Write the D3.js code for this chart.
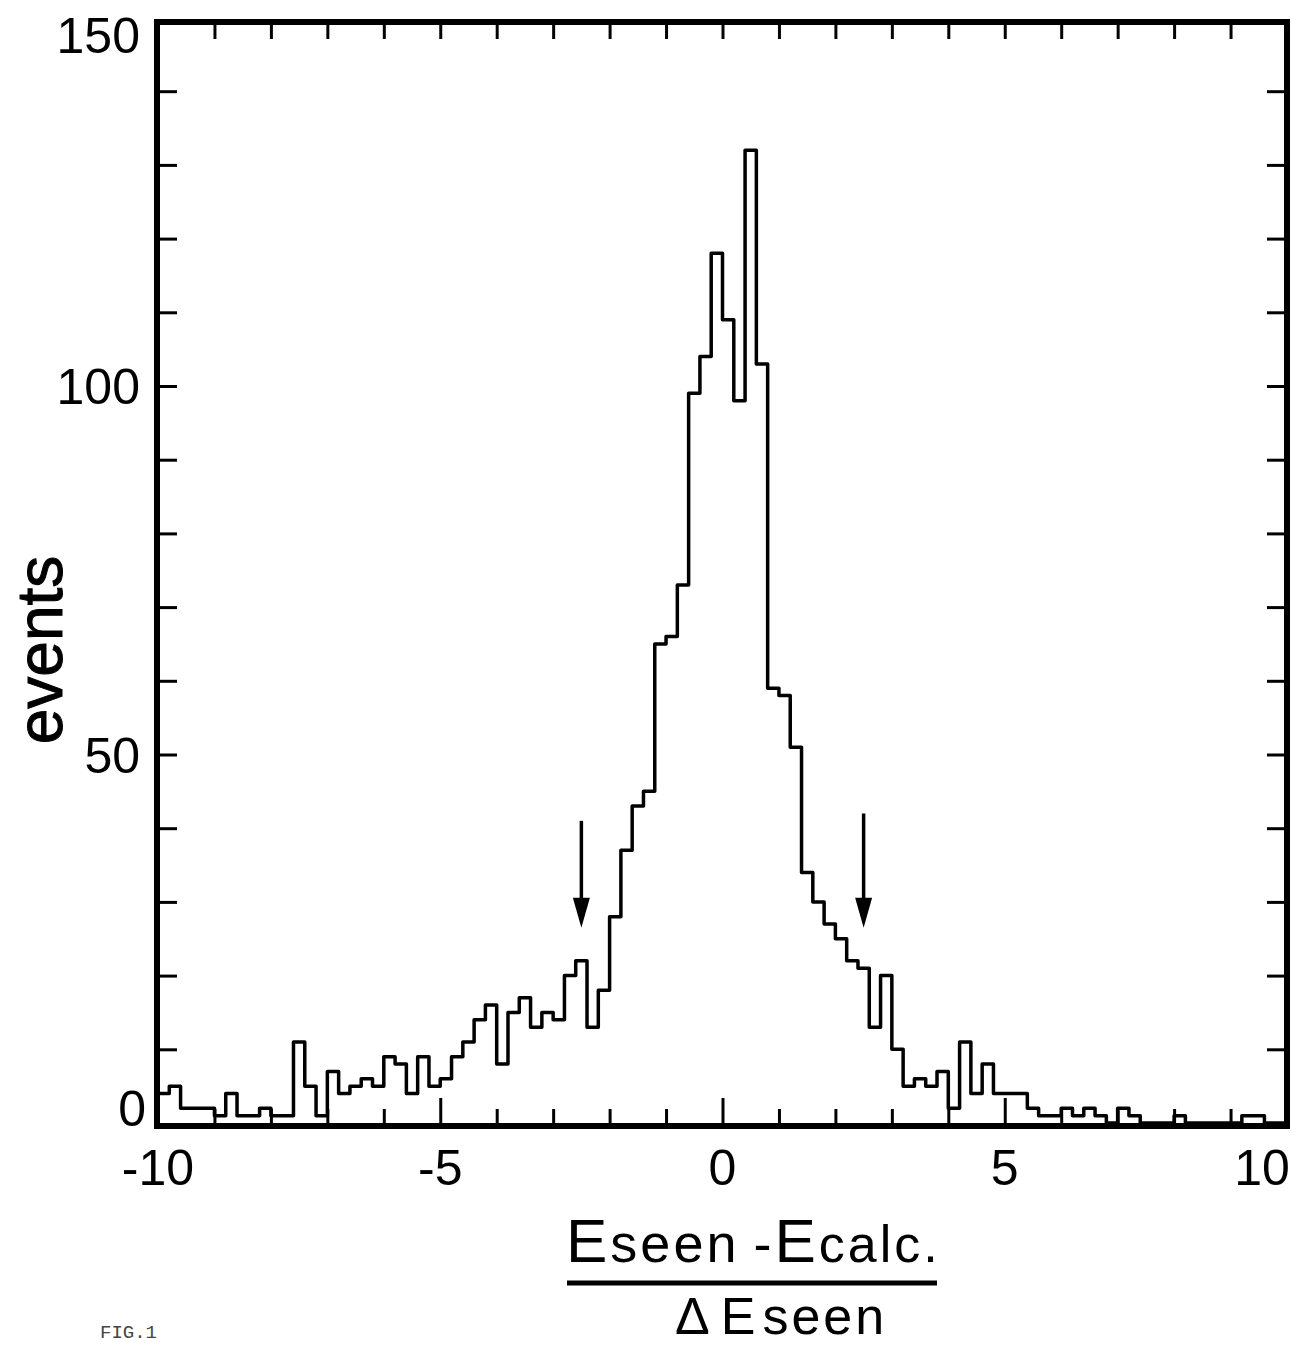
<!DOCTYPE html>
<html>
<head>
<meta charset="utf-8">
<script src="https://cdn.jsdelivr.net/npm/d3@7"></script>
<style>
  body { margin: 0; background: #fff; }
  svg text { font-family: "Liberation Sans", Arial, sans-serif; fill: #000; }
</style>
</head>
<body>
<div id="chart"></div>
<script>
// histogram of (Eseen - Ecalc) / dEseen, bins of 0.2 from -10 to 10
var binStart = -10, binWidth = 0.2;
var counts = [
   4,  5,  2,  2,  2,  1,  4,  1,  1,  2,
   1,  1, 11,  5,  1,  7,  4,  5,  6,  5,
   9,  8,  4,  9,  5,  6,  9, 11, 14, 16,
   8, 15, 17, 13, 15, 14, 20, 22, 13, 18,
  28, 37, 43, 45, 65, 66, 73, 99,104,118,
 109, 98,132,103, 59, 58, 51, 34, 30, 27,
  25, 22, 21, 13, 20, 10,  5,  6,  5,  7,
   2, 11,  4,  8,  4,  4,  4,  2,  1,  1,
   2,  1,  2,  1,  0,  2,  1,  0,  0,  0,
   1,  0,  0,  0,  0,  0,  1,  1,  0,  0
];
var xTickLabels = [-10, -5, 0, 5, 10];
var yTickLabels = [0, 50, 100, 150];
var cuts = [-2.5, 2.5];          // arrows
var arrowTop = [41, 42], arrowTip = 26.5;

var width = 1293, height = 1362;
var frame = {left: 157, right: 1287, top: 22, bottom: 1126};

var svg = d3.select("#chart").append("svg")
    .attr("width", width)
    .attr("height", height);

var x = d3.scaleLinear().domain([-10, 10]).range([frame.left + 1, frame.right]);
var y = d3.scaleLinear().domain([0, 150]).range([frame.bottom - 3, frame.top - 4.5]);

// inward ticks
function ticks(axis, tx, ty) {
    var g = svg.append("g").attr("transform", "translate(" + tx + "," + ty + ")").call(axis);
    g.select(".domain").remove();
    g.selectAll("line").attr("stroke", "#000").attr("stroke-width", 3);
    return g;
}
var minorX = d3.range(-9, 10).filter(function(d) { return d % 5 !== 0; });
var majorX = [-5, 0, 5];
ticks(d3.axisBottom(x).tickValues(minorX).tickSize(-17).tickFormat(""), 0, frame.bottom);
ticks(d3.axisBottom(x).tickValues(majorX).tickSize(-28).tickFormat(""), 0, frame.bottom);
ticks(d3.axisTop(x).tickValues(d3.range(-9, 10)).tickSize(-17).tickFormat(""), 0, frame.top);
ticks(d3.axisLeft(y).tickValues(d3.range(10, 150, 10)).tickSize(-20).tickFormat(""), frame.left, 0);
ticks(d3.axisRight(y).tickValues(d3.range(10, 150, 10)).tickSize(-20).tickFormat(""), frame.right, 0);

// frame
svg.append("rect")
    .attr("x", frame.left)
    .attr("y", frame.top)
    .attr("width", frame.right - frame.left)
    .attr("height", frame.bottom - frame.top)
    .attr("fill", "none")
    .attr("stroke", "#000")
    .attr("stroke-width", 6);

// histogram as a step line
var pts = [[binStart, 0]];
counts.forEach(function(c, i) { pts.push([binStart + i * binWidth, c]); });
pts.push([binStart + counts.length * binWidth, counts[counts.length - 1]]);
pts.push([binStart + counts.length * binWidth, 0]);

var line = d3.line()
    .x(function(d) { return x(d[0]); })
    .y(function(d) { return y(d[1]); })
    .curve(d3.curveStepAfter);

svg.append("path")
    .datum(pts)
    .attr("d", line)
    .attr("fill", "none")
    .attr("stroke", "#000")
    .attr("stroke-width", 3.5)
    .attr("stroke-linejoin", "round");

// arrows at the cuts
cuts.forEach(function(c, i) {
    var ax = x(c), top = y(arrowTop[i]), tip = y(arrowTip);
    svg.append("line")
        .attr("x1", ax).attr("x2", ax)
        .attr("y1", top).attr("y2", tip - 20)
        .attr("stroke", "#000").attr("stroke-width", 3.5);
    svg.append("path")
        .attr("d", "M" + (ax - 8.5) + "," + (tip - 30) + "L" + (ax + 8.5) + "," + (tip - 30) + "L" + ax + "," + tip + "Z")
        .attr("fill", "#000");
});

// tick labels
svg.selectAll(".xl").data(xTickLabels).enter().append("text")
    .attr("class", "xl")
    .attr("x", function(d) { return Math.min(x(d), 1262); })
    .attr("y", 1185)
    .attr("text-anchor", "middle")
    .style("font-size", "50px")
    .text(function(d) { return d < 0 ? "-" + Math.abs(d) : d; });

svg.selectAll(".yl").data(yTickLabels).enter().append("text")
    .attr("class", "yl")
    .attr("x", function(d) { return d === 0 ? 146 : 140; })
    .attr("y", function(d) { return Math.min(Math.max(y(d), 35), 1108) + 18; })
    .attr("text-anchor", "end")
    .style("font-size", "50px")
    .text(function(d) { return d; });

// axis titles
svg.append("text")
    .attr("transform", "translate(62,650) rotate(-90)")
    .attr("text-anchor", "middle")
    .style("font-size", "64px")
    .style("stroke", "#000")
    .style("stroke-width", 1)
    .text("events");

var num = svg.append("text")
    .attr("x", 566)
    .attr("y", 1262)
    .style("letter-spacing", "3px");
num.append("tspan").style("font-size", "62px").text("E");
num.append("tspan").style("font-size", "54px").text("seen");
num.append("tspan").style("font-size", "54px").attr("dx", 14).text("-");
num.append("tspan").style("font-size", "62px").text("E");
num.append("tspan").style("font-size", "52px").text("calc.");

svg.append("line")
    .attr("x1", 567).attr("x2", 937)
    .attr("y1", 1283).attr("y2", 1283)
    .attr("stroke", "#000").attr("stroke-width", 5);

var den = svg.append("text")
    .attr("x", 675)
    .attr("y", 1334)
    .style("letter-spacing", "3px");
den.append("tspan").style("font-size", "52px").text("\u0394");
den.append("tspan").style("font-size", "52px").attr("dx", 8).text("E");
den.append("tspan").style("font-size", "52px").attr("dx", 4).text("seen");

svg.append("text")
    .attr("x", 100)
    .attr("y", 1338)
    .style("font-family", "'Liberation Mono', 'DejaVu Sans Mono', monospace")
    .style("font-size", "19px")
    .style("fill", "#444")
    .text("FIG.1");
</script>
</body>
</html>
